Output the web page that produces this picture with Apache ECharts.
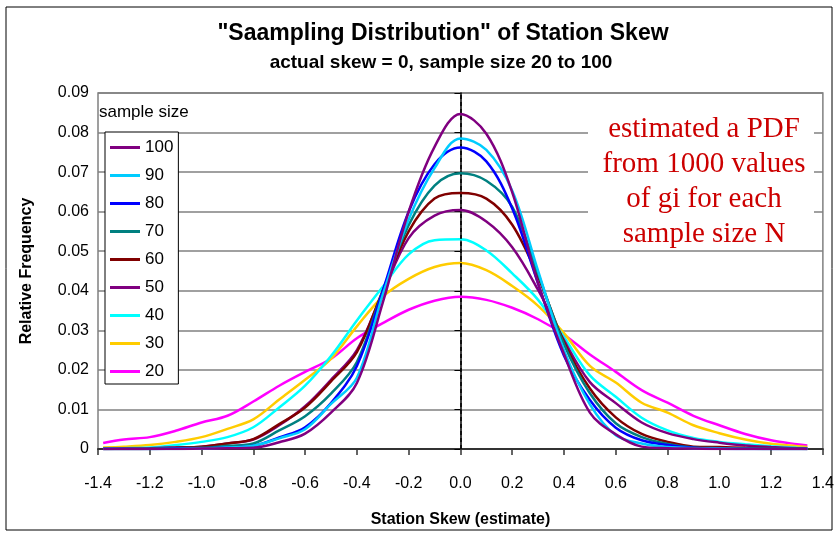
<!DOCTYPE html>
<html>
<head>
<meta charset="utf-8">
<script src="https://cdn.jsdelivr.net/npm/echarts@6/dist/echarts.min.js"></script>
<style>
html,body{margin:0;padding:0;background:#fff;}
#chart{width:837px;height:533px;}
</style>
</head>
<body>
<div id="chart"></div>
<script>
// station skew estimates (x) and relative frequency per sample size
var xs = [-1.38, -1.3, -1.2, -1.1, -1.0, -0.9, -0.8, -0.7, -0.6, -0.5, -0.4, -0.3, -0.2, -0.1, 0, 0.1, 0.2, 0.3, 0.4, 0.5, 0.6, 0.7, 0.8, 0.9, 1.0, 1.1, 1.2, 1.3, 1.34];
var n100 = [0, 0, 0, 0, 0.0001, 0.0002, 0.0003, 0.0017, 0.0039, 0.0092, 0.0167, 0.037, 0.060, 0.0764, 0.0847, 0.0797, 0.0649, 0.0418, 0.024, 0.0092, 0.0037, 0.0006, 0.0002, 0.0001, 0, 0, 0, 0, 0];
var n90 = [0, 0, 0, 0, 0.0001, 0.0004, 0.0008, 0.0027, 0.005, 0.0114, 0.018, 0.039, 0.058, 0.071, 0.0785, 0.0756, 0.0653, 0.045, 0.025, 0.0113, 0.0035, 0.0014, 0.0005, 0.0002, 0.0001, 0, 0, 0, 0];
var n80 = [0, 0, 0, 0.0001, 0.0002, 0.0004, 0.0008, 0.0029, 0.0055, 0.0116, 0.021, 0.040, 0.060, 0.072, 0.0762, 0.0727, 0.0608, 0.0418, 0.0236, 0.0124, 0.0054, 0.0022, 0.001, 0.0003, 0.0001, 0, 0, 0, 0];
var n70 = [0, 0, 0, 0.0002, 0.0003, 0.0008, 0.0014, 0.0047, 0.0083, 0.014, 0.022, 0.040, 0.0566, 0.0666, 0.0697, 0.0678, 0.0612, 0.0443, 0.0265, 0.0141, 0.0065, 0.003, 0.0013, 0.0004, 0.0002, 0.0001, 0, 0, 0];
var n60 = [0, 0, 0.0001, 0.0003, 0.0006, 0.0014, 0.0025, 0.0063, 0.0105, 0.0171, 0.0245, 0.040, 0.055, 0.0633, 0.0647, 0.0633, 0.0567, 0.0435, 0.027, 0.0153, 0.008, 0.0038, 0.0018, 0.0006, 0.0005, 0.0003, 0.0002, 0.0001, 0];
var n50 = [0, 0.0001, 0.0002, 0.0004, 0.0006, 0.0014, 0.0024, 0.006, 0.0108, 0.0175, 0.025, 0.0395, 0.0533, 0.059, 0.0604, 0.0575, 0.051, 0.0402, 0.0275, 0.0169, 0.0116, 0.0067, 0.004, 0.0025, 0.0016, 0.0009, 0.0005, 0.0002, 0.0001];
var n40 = [0.0001, 0.0002, 0.0004, 0.001, 0.0018, 0.003, 0.0055, 0.0105, 0.016, 0.0235, 0.0325, 0.041, 0.0492, 0.0528, 0.053, 0.0502, 0.0444, 0.0377, 0.0283, 0.0186, 0.0132, 0.0079, 0.0047, 0.0028, 0.0018, 0.0012, 0.0007, 0.0003, 0.0002];
var n30 = [0.0004, 0.0006, 0.001, 0.0018, 0.003, 0.0051, 0.0075, 0.0125, 0.0175, 0.0228, 0.031, 0.0385, 0.043, 0.046, 0.047, 0.0452, 0.0412, 0.0362, 0.0293, 0.021, 0.0168, 0.0117, 0.0092, 0.006, 0.004, 0.0024, 0.0013, 0.0007, 0.0005];
var n20 = [0.0015, 0.0024, 0.003, 0.0046, 0.0067, 0.0084, 0.012, 0.016, 0.0195, 0.0228, 0.028, 0.0318, 0.0352, 0.0375, 0.0385, 0.0377, 0.0357, 0.0328, 0.0289, 0.0239, 0.0195, 0.0149, 0.0117, 0.0084, 0.006, 0.0038, 0.0022, 0.0012, 0.0009];

var sizeNames = ['100', '90', '80', '70', '60', '50', '40', '30', '20'];
var sizeData = [n100, n90, n80, n70, n60, n50, n40, n30, n20];
var sizeColors = ['#800080', '#00CCFF', '#0000FF', '#008080', '#800000', '#800080', '#00FFFF', '#FFCC00', '#FF00FF'];

var font = '"Liberation Sans", Arial, sans-serif';

function pairs(arr){
    var out = [];
    for(var i=0;i<xs.length;i++){
        out.push([xs[i], arr[i]]);
    }
    return out;
}

var series = [];
for(var k=0;k<sizeNames.length;k++){
    var s = {
        name: sizeNames[k],
        type: 'line',
        data: pairs(sizeData[k]),
        smooth: 0.35,
        symbol: 'none',
        lineStyle: {width: 2.5, color: sizeColors[k]},
        itemStyle: {color: sizeColors[k]},
        z: 10 - k
    };
    if(k===0){
        // dashed line at skew = 0
        s.markLine = {
            silent: true,
            symbol: 'none',
            label: {show: false},
            lineStyle: {type: [4, 3], color: '#000', width: 1.5},
            data: [{xAxis: 0}]
        };
    }
    series.push(s);
}

var chart = echarts.init(document.getElementById('chart'));
chart.setOption({
    animation: false,
    backgroundColor: '#fff',
    grid: {
        left: 98, right: 12, top: 93, bottom: 77,
        show: true, borderColor: '#808080', borderWidth: 1.5
    },
    legend: {
        orient: 'vertical',
        left: 105, top: 132,
        data: sizeNames,
        icon: 'rect',
        itemWidth: 30, itemHeight: 3, itemGap: 11,
        padding: [7, 5, 4, 5],
        backgroundColor: '#fff',
        borderColor: '#000', borderWidth: 1,
        textStyle: {fontFamily: font, fontSize: 17, color: '#000'}
    },
    xAxis: {
        type: 'value',
        min: -1.4, max: 1.4, interval: 0.2,
        name: 'Station Skew (estimate)',
        nameLocation: 'middle', nameGap: 63,
        nameTextStyle: {fontFamily: font, fontSize: 16, fontWeight: 'bold', color: '#000'},
        axisLine: {show: true, lineStyle: {color: '#333', width: 2}},
        axisTick: {show: true, length: 6, lineStyle: {color: '#333', width: 1.5}},
        axisLabel: {
            margin: 27, fontFamily: font, fontSize: 16, color: '#000',
            formatter: function(v){ return v.toFixed(1); }
        },
        splitLine: {show: false}
    },
    yAxis: {
        type: 'value',
        min: 0, max: 0.09, interval: 0.01,
        name: 'Relative Frequency',
        nameLocation: 'middle', nameGap: 63,
        nameTextStyle: {fontFamily: font, fontSize: 16, fontWeight: 'bold', color: '#000'},
        axisLine: {show: true, lineStyle: {color: '#000', width: 1.5}},
        axisTick: {show: true, length: 6, lineStyle: {color: '#000'}},
        axisLabel: {
            margin: 9, fontFamily: font, fontSize: 16, color: '#000',
            formatter: function(v){ return v === 0 ? '0' : v.toFixed(2); }
        },
        splitLine: {show: true, lineStyle: {color: '#808080', width: 1.5}}
    },
    graphic: [
        {type: 'rect', z: 0, silent: true,
         shape: {x: 6, y: 7, width: 826, height: 523},
         style: {fill: 'none', stroke: '#000', lineWidth: 1}},
        {type: 'text', x: 443, y: 34, z: 20,
         style: {text: '"Saampling Distribution" of Station Skew', font: 'bold 23px ' + font,
                 fill: '#000', textAlign: 'center', textVerticalAlign: 'middle'}},
        {type: 'text', x: 441, y: 63, z: 20,
         style: {text: 'actual skew = 0, sample size 20 to 100', font: 'bold 19px ' + font,
                 fill: '#000', textAlign: 'center', textVerticalAlign: 'middle'}},
        {type: 'text', x: 99, y: 112, z: 20,
         style: {text: 'sample size', font: '17px ' + font, fill: '#000',
                 textAlign: 'left', textVerticalAlign: 'middle'}},
        {type: 'rect', z: 20, silent: true,
         shape: {x: 588, y: 96, width: 226, height: 154},
         style: {fill: '#fff'}},
        {type: 'text', x: 704, y: 112, z: 21,
         style: {text: 'estimated a PDF\nfrom 1000 values\nof gi for each\nsample size N',
                 font: '29px "Liberation Serif", "Times New Roman", serif', fill: '#CC0000',
                 textAlign: 'center', lineHeight: 35}}
    ],
    series: series
});
</script>
</body>
</html>
